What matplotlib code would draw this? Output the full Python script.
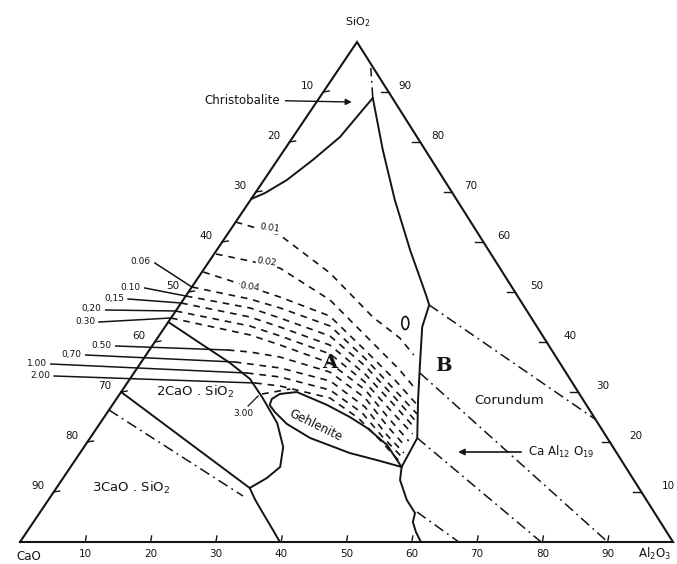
import numpy as np
import matplotlib.pyplot as plt
from matplotlib.patches import Ellipse

# CaO - Al2O3 - SiO2 diagram. Every point is (wt% Al2O3, wt% SiO2); CaO is the rest.

christobalite_bd = [(0, 68.6), (1.5, 69.8), (3.5, 72.4), (5.4, 76.4), (7.2, 81.0), (7.8, 85.8), (8.2, 88.8)]
main_bd = [(8.2, 88.8), (15.1, 78.4), (22.1, 68.4), (29.6, 58.4), (37.0, 49.0), (38.2, 47.4),
           (39.4, 43.0), (42.5, 36.4), (46.3, 28.4), (50.1, 20.8), (50.7, 15.0), (51.8, 12.4),
           (54.9, 8.4), (57.5, 5.8), (58.1, 4.0), (59.6, 2.0), (61.4, 0.0)]
c2s_bd = [(0, 44.0), (7.0, 39.8), (13.7, 35.8), (18.4, 32.6), (22.3, 28.8), (27.1, 23.8), (30.5, 19.0),
          (32.1, 15.0), (31.2, 12.8), (29.6, 10.8), (31.7, 8.4), (34.2, 5.8), (37.5, 2.4), (39.8, 0.0)]
c3s_bd = [(0, 30.0), (29.6, 10.8)]
c3s_dd = [(0, 26.4), (29.4, 9.2)]
gehlenite = [(50.7, 15.0), (46.2, 19.4), (41.4, 22.8), (37.6, 25.0), (32.9, 27.4), (26.9, 30.0),
             (24.5, 29.6), (23.8, 28.6), (24.1, 27.4), (25.6, 26.0), (28.7, 23.6), (33.7, 20.8),
             (41.3, 17.8), (46.8, 16.2), (50.7, 15.0)]

# dash-dot lines
tie_lines = [
    [(8.2, 88.8), (4.8, 94.8)],
    [(38.2, 47.4), (75.5, 24.5)],
    [(43.8, 33.8), (90.0, 0.0)],
    [(50.1, 20.8), (79.8, 0.0)],
    [(57.7, 6.0), (67.2, 0.0)],
]

# dashed iso-lines in field A
iso_values = ['0.01', '0.02', '0.04', '0.06', '0.10', '0,15', '0,20', '0.30', '0.50', '0,70', '1.00', '2.00', '3.00']
iso_lines = [
    [(0.0, 64.0), (8.1, 61.4), (19.7, 53.8), (30.8, 45.0), (37.1, 40.8), (41.0, 37.4)],
    [(0.3, 57.6), (6.2, 56.2), (11.5, 54.8), (22.5, 48.4), (33.5, 39.8), (40.4, 34.4), (45.0, 30.4)],
    [(0.2, 54.0), (8.9, 51.0), (14.5, 49.0), (24.1, 45.2), (33.0, 38.4), (40.7, 32.4), (46.7, 27.4)],
    [(0.0, 51.0), (10.1, 48.6), (15.7, 46.8), (25.2, 43.2), (33.8, 36.8), (41.7, 30.4), (47.6, 25.6)],
    [(0.0, 49.2), (11.1, 46.8), (16.7, 44.8), (26.2, 41.2), (34.7, 35.2), (42.6, 28.8), (48.1, 24.2)],
    [(0.0, 47.8), (12.0, 45.0), (17.6, 43.0), (27.1, 39.4), (35.5, 33.6), (43.4, 27.2), (48.7, 22.8)],
    [(0.0, 46.2), (12.9, 43.2), (18.6, 41.2), (28.1, 37.6), (36.3, 32.0), (43.8, 25.8), (49.0, 21.6)],
    [(0.0, 44.8), (13.9, 41.4), (19.5, 39.4), (29.0, 35.8), (37.2, 30.4), (44.1, 24.4), (49.1, 20.2)],
    [(12.0, 38.4), (15.6, 38.0), (20.7, 37.0), (29.9, 34.0), (38.0, 28.8), (44.5, 23.0), (49.3, 19.0)],
    [(14.3, 36.0), (21.9, 34.8), (30.9, 32.2), (38.9, 27.0), (44.9, 21.6), (49.6, 17.8)],
    [(17.3, 33.8), (22.8, 33.0), (31.8, 30.4), (39.1, 25.8), (44.7, 21.0), (49.7, 17.0)],
    [(19.6, 31.8), (23.7, 31.2), (32.6, 28.8), (39.0, 24.8), (44.6, 20.4), (49.7, 16.2)],
    [(21.8, 29.6), (25.6, 30.6)],
]
# where the label of each iso-line sits, relative to the line's first point (pixels)
iso_label_offset = [None, None, None, (-51, -25), (-55, -9), (-67, -5), (-84, -2), (-86, 3),
                    (-126, -5), (-163, -8), (-210, -10), (-215, -8), (-19, 19)]
inline_labels = {0: (5.9, 62.8), 1: (8.9, 56.0), 2: (8.9, 51.0)}

ticks = [10, 20, 30, 40, 50, 60, 70, 80, 90]

# page corners of the printed triangle
p_cao = np.array([20.0, 542.0])
p_al = np.array([673.0, 542.0])
p_si = np.array([357.0, 42.0])


def tern(pts):
    p = np.atleast_2d(np.asarray(pts, float)) / 100.0
    xy = p_cao + p[:, :1] * (p_al - p_cao) + p[:, 1:2] * (p_si - p_cao)
    return xy[:, 0], xy[:, 1]


def pt(al, si):
    x, y = tern([(al, si)])
    return x[0], y[0]


ink = '#141414'
fig = plt.figure(figsize=(6.77, 5.64), dpi=100)
ax = fig.add_axes([0, 0, 1, 1])
ax.set_xlim(0, 677)
ax.set_ylim(564, 0)
ax.axis('off')

# triangle
ax.plot(*tern([(0, 0), (100, 0), (0, 100), (0, 0)]), color=ink, lw=1.5, solid_joinstyle='miter')

# ticks and tick labels
for t in ticks:
    x, y = pt(t, 0)
    ax.plot([x, x + 1], [y, y - 6], color=ink, lw=1.0)
    ax.text(x, y + 12, str(t), ha='center', va='center', fontsize=7.5, color=ink)
    x, y = pt(0, 100 - t)  # CaO scale on left edge
    ax.plot([x, x + 6], [y, y - 1], color=ink, lw=1.0)
    ax.text(x - 16, y - 6, str(t), ha='center', va='center', fontsize=7.5, color=ink)
    x, y = pt(100 - t, t)  # SiO2 scale on right edge
    ax.plot([x, x - 8], [y, y], color=ink, lw=1.0)
    ax.text(x + 16 + (90 - t) * 0.14, y - 6, str(t), ha='center', va='center', fontsize=7.5, color=ink)

x, y = pt(0, 100)
ax.text(x + 1, y - 20, r'SiO$_2$', ha='center', va='center', fontsize=8, color=ink)
x, y = pt(0, 0)
ax.text(x - 4, y + 15, 'CaO', ha='left', va='center', fontsize=8.5, color=ink)
ax.text(671, y + 12, r'Al$_2$O$_3$', ha='right', va='center', fontsize=8.5, color=ink)

# solid boundaries
for line in [christobalite_bd, main_bd, c2s_bd, c3s_bd, gehlenite]:
    ax.plot(*tern(line), color=ink, lw=1.4, solid_capstyle='round', solid_joinstyle='round')

# dash-dot lines
for line in tie_lines + [c3s_dd]:
    ax.plot(*tern(line), color=ink, lw=1.1, linestyle=(0, (7, 3, 1.2, 3)))

# iso-lines
for i, line in enumerate(iso_lines):
    ax.plot(*tern(line), color=ink, lw=1.2, linestyle=(0, (4, 3.5)))
    if iso_label_offset[i] is not None:
        sx, sy = pt(*line[0])
        dx, dy = iso_label_offset[i]
        lx, ly = sx + dx, sy + dy
        ax.text(lx, ly, iso_values[i], ha='center', va='center', fontsize=6.5, color=ink)
        if iso_values[i] == '3.00':
            ax.plot([lx + 5, sx - 4], [ly - 7, sy + 2], color=ink, lw=0.9)
        else:
            ax.plot([lx + 14, sx], [ly + 1, sy], color=ink, lw=1.1)
for i, (al, si) in inline_labels.items():
    x, y = pt(al, si)
    ax.text(x, y, iso_values[i], ha='center', va='center', fontsize=6.5, color=ink, rotation=-8,
            bbox=dict(boxstyle='square,pad=0.1', fc='white', ec='none'))

# field labels
x, y = pt(29.0, 35.8)
ax.text(x, y, 'A', ha='center', va='center', fontsize=14, fontweight='bold', family='DejaVu Serif', color=ink)
x, y = pt(46.6, 35.2)
ax.text(x, y, 'B', ha='center', va='center', fontsize=14, fontweight='bold', family='DejaVu Serif', color=ink)
x, y = pt(60.4, 28.2)
ax.text(x, y, 'Corundum', ha='center', va='center', fontsize=9.5, color=ink)
x, y = pt(11.3, 30.0)
ax.text(x, y, r'2CaO . SiO$_2$', ha='center', va='center', fontsize=9.5, color=ink)
x, y = pt(11.4, 10.8)
ax.text(x, y, r'3CaO . SiO$_2$', ha='center', va='center', fontsize=9.5, color=ink)
x, y = pt(33.2, 23.4)
ax.text(x, y, 'Gehlenite', ha='center', va='center', fontsize=8.5, rotation=-26, color=ink)
x, y = pt(36.4, 43.8)
ax.add_patch(Ellipse((x, y), 7, 13, fill=False, ec=ink, lw=1.2))

x, y = pt(5.4, 88.0)
ax.annotate('Christobalite', xy=(x, y), xytext=(x - 72, y - 2), ha='right', va='center', fontsize=8.5,
            color=ink, arrowprops=dict(arrowstyle='-|>', color=ink, lw=1.0, shrinkA=2, shrinkB=0,
                                       mutation_scale=9))
x, y = pt(57.8, 18.0)
ax.annotate(r'Ca Al$_{12}$ O$_{19}$', xy=(x, y), xytext=(x + 70, y), ha='left', va='center', fontsize=8.5,
            color=ink, arrowprops=dict(arrowstyle='-|>', color=ink, lw=1.2, shrinkA=3, shrinkB=0,
                                       mutation_scale=9))

fig.savefig('out.png', dpi=100, facecolor='white')
